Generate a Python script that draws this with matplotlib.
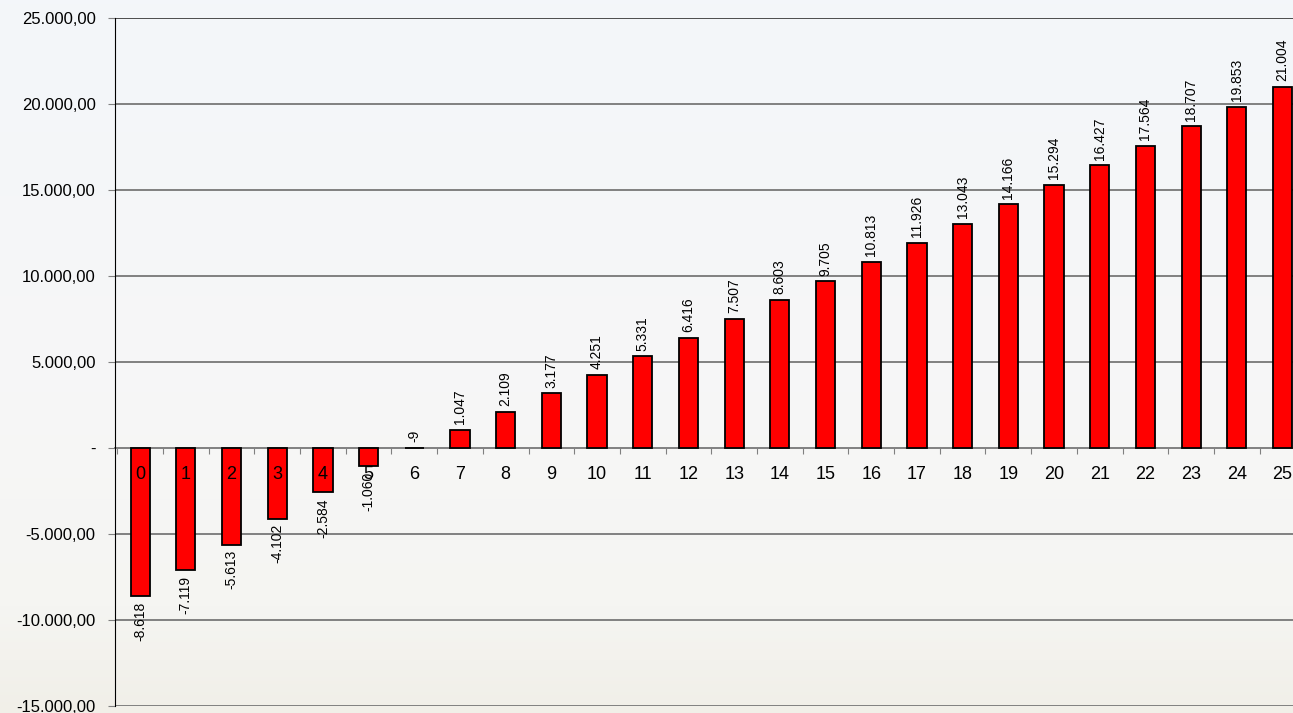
import matplotlib
matplotlib.use("Agg")
import matplotlib.pyplot as plt
import numpy as np
from matplotlib.ticker import FuncFormatter, FixedLocator

categories = [str(i) for i in range(26)]
values = [-8618, -7119, -5613, -4102, -2584, -1060, -9, 1047, 2109, 3177,
          4251, 5331, 6416, 7507, 8603, 9705, 10813, 11926, 13043, 14166,
          15294, 16427, 17564, 18707, 19853, 21004]
y_ticks = [-15000, -10000, -5000, 0, 5000, 10000, 15000, 20000, 25000]

plt.rcParams['font.family'] = ['Liberation Sans', 'DejaVu Sans']

W, H = 1293, 713
fig = plt.figure(figsize=(W / 100, H / 100), dpi=100)

# faded background, light sky on top, a bit warmer at the bottom
bg = fig.add_axes([0, 0, 1, 1], zorder=-10)
stops_y = [0.0, 0.55, 0.85, 1.0]
stops_c = np.array([[243, 246, 250], [247, 247, 247], [245, 245, 242], [241, 239, 232]]) / 255
yy = np.linspace(0, 1, 200)
grad = np.stack([np.interp(yy, stops_y, stops_c[:, k]) for k in range(3)], axis=-1)
bg.imshow(grad[:, None, :], aspect='auto', extent=[0, 1, 1, 0])
bg.set_axis_off()

ax = fig.add_axes([115 / W, 1 - 706 / H, 1 - 115 / W, (706 - 18) / H])
ax.set_facecolor('none')

x = np.arange(len(values))
ax.bar(x, values, width=0.42, color='#ff0000', edgecolor='black', linewidth=1.3, zorder=3)

ax.set_xlim(-0.55, 25.23)
ax.set_ylim(-15000, 25000)


def eu_fmt(v, pos=None):
    if v == 0:
        return '-'
    s = '{:,.2f}'.format(v)
    return s.replace(',', 'X').replace('.', ',').replace('X', '.')


ax.yaxis.set_major_locator(FixedLocator(y_ticks))
ax.yaxis.set_major_formatter(FuncFormatter(eu_fmt))
ax.tick_params(axis='y', direction='out', length=5, color='#808080', labelsize=12,
               pad=9, labelcolor='black')
for yt in y_ticks:
    if yt in (0, 25000):
        continue
    ax.axhline(yt, color='#808080', linewidth=1.4, zorder=1)
ax.axhline(25000, color='#303030', linewidth=1.2, zorder=1)

# category axis sits on zero
ax.spines['bottom'].set_position(('data', 0))
ax.spines['bottom'].set_color('#808080')
ax.spines['bottom'].set_linewidth(1.4)
ax.spines['bottom'].set_zorder(2)
ax.spines['top'].set_visible(False)
ax.spines['right'].set_visible(False)
ax.spines['left'].set_color('black')
ax.xaxis.set_major_locator(FixedLocator(np.arange(-0.5, 26, 1)))
ax.tick_params(axis='x', direction='out', length=4, color='#808080', labelbottom=False)

for xi, c in zip(x, categories):
    ax.annotate(c, (xi, 0), xytext=(0, -19), textcoords='offset points',
                ha='center', va='center', fontsize=13, zorder=5)

for xi, v in zip(x, values):
    lab = '{:,}'.format(v).replace(',', '.')
    if v > -100:
        ax.annotate(lab, (xi, max(v, 0)), xytext=(0, 4), textcoords='offset points',
                    ha='center', va='bottom', rotation=90, fontsize=10, zorder=5)
    else:
        ax.annotate(lab, (xi, v), xytext=(0, -4), textcoords='offset points',
                    ha='center', va='top', rotation=90, fontsize=10, zorder=5)

fig.savefig('out.png', dpi=100)
